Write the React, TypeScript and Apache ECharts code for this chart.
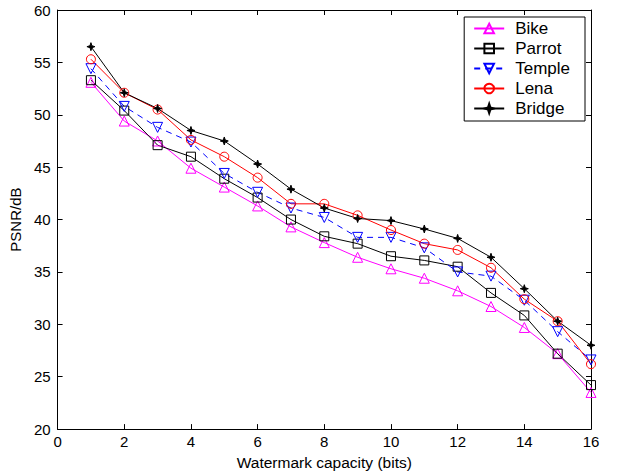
import React, { useEffect, useRef } from "react";
import * as echarts from "echarts";

const capacities = [1, 2, 3, 4, 5, 6, 7, 8, 9, 10, 11, 12, 13, 14, 15, 16];
const bike = [53.1, 49.4, 47.5, 44.9, 43.1, 41.3, 39.3, 37.8, 36.4, 35.3, 34.4, 33.2, 31.7, 29.7, 27.2, 23.5];
const parrot = [53.3, 50.4, 47.1, 46.0, 43.9, 42.1, 40.0, 38.4, 37.7, 36.5, 36.1, 35.5, 33.0, 30.85, 27.2, 24.2];
const temple = [54.4, 50.8, 48.8, 47.4, 44.4, 42.6, 41.1, 40.2, 38.3, 38.3, 37.3, 35.0, 34.6, 32.3, 29.3, 26.6];
const lena = [55.3, 52.1, 50.5, 47.6, 46.0, 44.0, 41.5, 41.5, 40.4, 39.0, 37.7, 37.1, 35.4, 32.4, 30.3, 26.2];
const bridge = [56.5, 52.1, 50.6, 48.5, 47.5, 45.3, 42.9, 41.1, 40.1, 39.9, 39.1, 38.2, 36.4, 33.4, 30.3, 28.0];
const xTicks = { min: 0, max: 16, interval: 2 };
const yTicks = { min: 20, max: 60, interval: 5 };

const FONT = "Liberation Sans";
const STAR = "path://M0,-5L1.2,-1.2L5,0L1.2,1.2L0,5L-1.2,1.2L-5,0L-1.2,-1.2Z";

function pairs(vals: number[]) {
  return capacities.map((c, i) => [c, vals[i]]);
}

export default function App() {
  const ref = useRef<HTMLDivElement>(null);
  useEffect(() => {
    if (!ref.current) return;
    const chart = echarts.init(ref.current, undefined, { renderer: "svg" });
    const axisCommon = {
      axisLine: { show: true, onZero: false, lineStyle: { color: "#000", width: 1 } },
      axisTick: { show: true, inside: true, length: 5, lineStyle: { color: "#000" } },
      splitLine: { show: false },
    };
    const mk = (name: string, vals: number[], color: string, symbol: string, size: number, extra: any = {}) => ({
      name,
      type: "line",
      data: pairs(vals),
      symbol,
      symbolSize: size,
      showAllSymbol: true,
      lineStyle: { color, width: 1, type: extra.dash ? [6, 5] : "solid" },
      itemStyle: extra.fill
        ? { color, borderColor: color, borderWidth: 1 }
        : { color: "transparent", borderColor: color, borderWidth: 1 },
      symbolRotate: extra.rotate || 0,
      emphasis: { disabled: true },
    });
    chart.setOption({
      animation: false,
      backgroundColor: "#fff",
      textStyle: { fontFamily: FONT },
      grid: { left: 57, right: 30, top: 10, bottom: 42, containLabel: false },
      legend: {
        orient: "vertical",
        right: 36,
        top: 17,
        backgroundColor: "#fff",
        borderColor: "#000",
        borderWidth: 1,
        padding: [3, 15, 4, 9],
        itemGap: 3,
        itemWidth: 30,
        itemHeight: 12,
        textStyle: { fontFamily: FONT, fontSize: 17, color: "#000", lineHeight: 17, padding: [0, 0, 0, 6] },
        data: ["Bike", "Parrot", "Temple", "Lena", "Bridge"],
      },
      xAxis: [
        {
          type: "value",
          ...xTicks,
          ...axisCommon,
          name: "Watermark capacity (bits)",
          nameLocation: "middle",
          nameGap: 22,
          nameTextStyle: { fontFamily: FONT, fontSize: 15.5, color: "#000" },
          axisLabel: { fontFamily: FONT, fontSize: 15, color: "#000", margin: 5 },
        },
        {
          type: "value",
          position: "top",
          ...xTicks,
          ...axisCommon,
          axisLabel: { show: false },
        },
      ],
      yAxis: [
        {
          type: "value",
          ...yTicks,
          ...axisCommon,
          name: "PSNR/dB",
          nameLocation: "middle",
          nameGap: 27,
          nameTextStyle: { fontFamily: FONT, fontSize: 15, color: "#000" },
          axisLabel: { fontFamily: FONT, fontSize: 15, color: "#000", margin: 7 },
        },
        {
          type: "value",
          position: "right",
          ...yTicks,
          ...axisCommon,
          axisLabel: { show: false },
        },
      ],
      series: [
        mk("Bike", bike, "#ff00ff", "triangle", 10),
        mk("Parrot", parrot, "#000000", "rect", 9),
        mk("Temple", temple, "#0000ff", "triangle", 10, { rotate: 180, dash: true }),
        mk("Lena", lena, "#ff0000", "circle", 9),
        mk("Bridge", bridge, "#000000", STAR, 8, { fill: true }),
      ],
    });
    return () => chart.dispose();
  }, []);
  return <div ref={ref} style={{ width: 621, height: 475, position: "absolute", left: 0, top: 0 }} />;
}
